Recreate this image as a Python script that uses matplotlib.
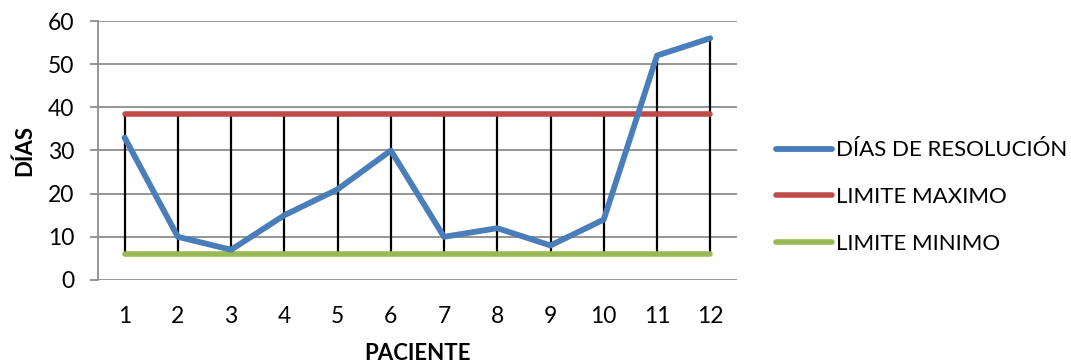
import matplotlib.pyplot as plt
import numpy as np

plt.rcParams['font.family'] = ['Lato', 'DejaVu Sans']

# pacientes y días de resolución
pacientes = list(range(1, 13))
dias = [33, 10, 7, 15, 21, 30, 10, 12, 8, 14, 52, 56]
limite_max = [38.5] * 12
limite_min = [6] * 12

fig = plt.figure(figsize=(10.71, 3.64), dpi=100)
ax = fig.add_axes([0.0915, 0.2308, 0.5965, 0.7115])

# líneas máximo-mínimo por paciente
alto = np.max([dias, limite_max, limite_min], axis=0)
bajo = np.min([dias, limite_max, limite_min], axis=0)
ax.vlines(pacientes, bajo, alto, color='black', lw=1.6, zorder=2)

ax.plot(pacientes, dias, color='#4A7EBB', lw=4.2, solid_capstyle='round',
        label='DÍAS DE RESOLUCIÓN', zorder=4)
ax.plot(pacientes, limite_max, color='#BE4B48', lw=4.0, solid_capstyle='round',
        label='LIMITE MAXIMO', zorder=3)
ax.plot(pacientes, limite_min, color='#98B954', lw=4.0, solid_capstyle='round',
        label='LIMITE MINIMO', zorder=3)

ax.set_xlim(0.5, 12.5)
ax.set_ylim(0, 60)
ax.set_yticks(range(0, 61, 10))
ax.set_xticks(pacientes)
ax.grid(axis='y', color='#8C8C8C', lw=1.3)
ax.set_axisbelow(True)
for s in ['top', 'right', 'bottom']:
    ax.spines[s].set_visible(False)
ax.spines['left'].set_color('#8C8C8C')
ax.spines['left'].set_linewidth(1.3)
ax.tick_params(axis='y', length=6, color='#8C8C8C', width=1.3, labelsize=16.5, pad=11)
ax.tick_params(axis='x', length=0, labelsize=16.5, pad=19)

ax.set_ylabel('DÍAS', fontsize=16, fontweight='bold', labelpad=9)
ax.set_xlabel('PACIENTE', fontsize=16, fontweight='bold', labelpad=11)

ax.legend(loc='center left', bbox_to_anchor=(1.03, 0.32), frameon=False,
          fontsize=16, handlelength=2.5, handletextpad=0.2, labelspacing=1.2)

fig.savefig('out.png', dpi=100)
